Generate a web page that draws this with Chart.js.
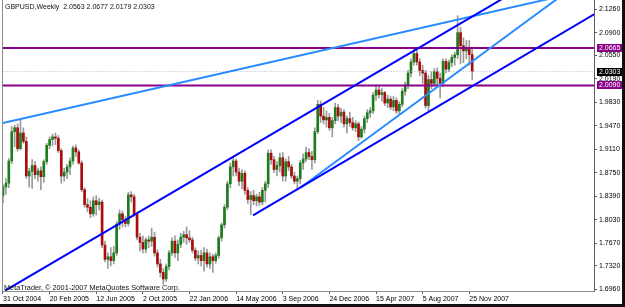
<!DOCTYPE html>
<html>
<head>
<meta charset="utf-8">
<title>GBPUSD Weekly</title>
<script src="https://cdn.jsdelivr.net/npm/chart.js@4.4.1/dist/chart.umd.min.js"></script>
<style>
  html, body { margin: 0; padding: 0; background: #fff; }
  #wrap { width: 625px; height: 307px; }
</style>
</head>
<body>
<div id="wrap"><canvas id="chart" width="625" height="307"></canvas></div>
<script>
// GBPUSD weekly bars, bar 0 = week of 31 Oct 2004, bar 161 = week of 2 Dec 2007
var opens = [
  1.840, 1.853, 1.859, 1.893, 1.938, 1.944, 1.912, 1.936, 1.923, 1.870,
  1.877, 1.886, 1.872, 1.878, 1.869, 1.892, 1.917, 1.926, 1.930, 1.928,
  1.909, 1.870, 1.876, 1.884, 1.893, 1.913, 1.907, 1.890, 1.849, 1.826,
  1.822, 1.812, 1.832, 1.826, 1.830, 1.764, 1.742, 1.746, 1.740, 1.752,
  1.796, 1.812, 1.803, 1.797, 1.841, 1.838, 1.811, 1.776, 1.768, 1.758,
  1.772, 1.770, 1.776, 1.752, 1.735, 1.722, 1.712, 1.731, 1.752, 1.770,
  1.752, 1.765, 1.776, 1.780, 1.775, 1.772, 1.756, 1.744, 1.748, 1.740,
  1.752, 1.735, 1.746, 1.740, 1.748, 1.775, 1.795, 1.822, 1.858, 1.884,
  1.893, 1.876, 1.862, 1.874, 1.848, 1.834, 1.840, 1.832, 1.838, 1.830,
  1.848, 1.858, 1.905, 1.895, 1.880, 1.886, 1.898, 1.870, 1.892, 1.884,
  1.870, 1.862, 1.866, 1.890, 1.896, 1.906, 1.900, 1.895, 1.938, 1.980,
  1.962, 1.956, 1.960, 1.944, 1.955, 1.975, 1.962, 1.968, 1.950, 1.958,
  1.952, 1.944, 1.950, 1.930, 1.942, 1.958, 1.967, 1.970, 1.994, 2.002,
  1.995, 1.998, 1.982, 1.988, 1.976, 1.986, 1.970, 1.980, 2.000, 2.010,
  2.028, 2.045, 2.058, 2.045, 2.032, 2.028, 1.978, 2.018, 2.012, 2.030,
  2.020, 2.012, 2.046, 2.034, 2.044, 2.052, 2.056, 2.090, 2.070, 2.062,
  2.066, 2.0563
];
var highs = [
  1.857, 1.866, 1.897, 1.946, 1.948, 1.950, 1.956, 1.944, 1.930, 1.882,
  1.895, 1.892, 1.882, 1.884, 1.895, 1.920, 1.930, 1.934, 1.936, 1.932,
  1.912, 1.882, 1.888, 1.898, 1.916, 1.918, 1.910, 1.893, 1.852, 1.835,
  1.832, 1.838, 1.840, 1.836, 1.833, 1.770, 1.752, 1.760, 1.762, 1.800,
  1.818, 1.816, 1.808, 1.845, 1.846, 1.842, 1.814, 1.782, 1.778, 1.775,
  1.778, 1.790, 1.784, 1.757, 1.742, 1.728, 1.735, 1.756, 1.775, 1.778,
  1.772, 1.782, 1.785, 1.792, 1.786, 1.776, 1.760, 1.755, 1.756, 1.760,
  1.758, 1.752, 1.750, 1.752, 1.778, 1.798, 1.826, 1.862, 1.890, 1.899,
  1.896, 1.882, 1.880, 1.878, 1.852, 1.846, 1.848, 1.842, 1.845, 1.852,
  1.862, 1.910, 1.910, 1.900, 1.892, 1.905, 1.906, 1.896, 1.900, 1.888,
  1.876, 1.870, 1.894, 1.904, 1.914, 1.912, 1.908, 1.944, 1.986, 1.985,
  1.975, 1.970, 1.966, 1.960, 1.982, 1.980, 1.974, 1.972, 1.962, 1.968,
  1.960, 1.955, 1.953, 1.946, 1.962, 1.972, 1.975, 1.998, 2.010, 2.008,
  2.004, 2.000, 1.994, 1.992, 1.992, 1.990, 1.984, 2.004, 2.014, 2.032,
  2.050, 2.066, 2.064, 2.050, 2.040, 2.032, 2.024, 2.030, 2.035, 2.036,
  2.028, 2.050, 2.050, 2.048, 2.056, 2.060, 2.1161, 2.098, 2.082, 2.078,
  2.078, 2.0677
];
var lows = [
  1.829, 1.842, 1.852, 1.889, 1.915, 1.908, 1.910, 1.920, 1.866, 1.853,
  1.851, 1.866, 1.862, 1.849, 1.860, 1.888, 1.912, 1.916, 1.918, 1.906,
  1.859, 1.862, 1.866, 1.872, 1.888, 1.900, 1.888, 1.846, 1.822, 1.815,
  1.806, 1.808, 1.810, 1.818, 1.760, 1.738, 1.728, 1.732, 1.735, 1.748,
  1.788, 1.792, 1.792, 1.793, 1.830, 1.808, 1.772, 1.755, 1.752, 1.752,
  1.760, 1.762, 1.747, 1.730, 1.715, 1.704, 1.708, 1.726, 1.748, 1.745,
  1.740, 1.760, 1.768, 1.765, 1.768, 1.752, 1.740, 1.735, 1.732, 1.724,
  1.730, 1.728, 1.722, 1.736, 1.744, 1.770, 1.790, 1.818, 1.852, 1.870,
  1.870, 1.855, 1.850, 1.842, 1.828, 1.811, 1.826, 1.824, 1.825, 1.826,
  1.830, 1.852, 1.888, 1.875, 1.870, 1.876, 1.862, 1.862, 1.878, 1.866,
  1.858, 1.851, 1.858, 1.880, 1.892, 1.895, 1.880, 1.890, 1.935, 1.952,
  1.950, 1.945, 1.940, 1.930, 1.950, 1.955, 1.952, 1.945, 1.936, 1.946,
  1.940, 1.938, 1.924, 1.928, 1.936, 1.952, 1.960, 1.966, 1.986, 1.990,
  1.985, 1.978, 1.975, 1.972, 1.970, 1.966, 1.965, 1.976, 1.994, 2.004,
  2.022, 2.040, 2.040, 2.024, 2.012, 1.974, 1.970, 2.004, 2.008, 2.010,
  1.990, 2.008, 2.028, 2.030, 2.038, 2.040, 2.050, 2.042, 2.044, 2.050,
  2.040, 2.0179
];
var closes = [
  1.853, 1.859, 1.893, 1.938, 1.944, 1.912, 1.936, 1.923, 1.870, 1.877,
  1.886, 1.872, 1.878, 1.869, 1.892, 1.917, 1.926, 1.930, 1.928, 1.909,
  1.870, 1.876, 1.884, 1.893, 1.913, 1.907, 1.890, 1.849, 1.826, 1.822,
  1.812, 1.832, 1.826, 1.830, 1.764, 1.742, 1.746, 1.740, 1.752, 1.796,
  1.812, 1.803, 1.797, 1.841, 1.838, 1.811, 1.776, 1.768, 1.758, 1.772,
  1.770, 1.776, 1.752, 1.735, 1.722, 1.712, 1.731, 1.752, 1.770, 1.752,
  1.765, 1.776, 1.780, 1.775, 1.772, 1.756, 1.744, 1.748, 1.740, 1.752,
  1.735, 1.746, 1.740, 1.748, 1.775, 1.795, 1.822, 1.858, 1.884, 1.893,
  1.876, 1.862, 1.874, 1.848, 1.834, 1.840, 1.832, 1.838, 1.830, 1.848,
  1.858, 1.905, 1.895, 1.880, 1.886, 1.898, 1.870, 1.892, 1.884, 1.870,
  1.862, 1.866, 1.890, 1.896, 1.906, 1.900, 1.895, 1.938, 1.980, 1.962,
  1.956, 1.960, 1.944, 1.955, 1.975, 1.962, 1.968, 1.950, 1.958, 1.952,
  1.944, 1.950, 1.930, 1.942, 1.958, 1.967, 1.970, 1.994, 2.002, 1.995,
  1.998, 1.982, 1.988, 1.976, 1.986, 1.970, 1.980, 2.000, 2.010, 2.028,
  2.045, 2.058, 2.045, 2.032, 2.028, 1.978, 2.018, 2.012, 2.030, 2.020,
  2.012, 2.046, 2.034, 2.044, 2.052, 2.056, 2.090, 2.070, 2.062, 2.066,
  2.0563, 2.0303
];

// time axis labels (one every 16 weeks)
var dateTicks = [0, 16, 32, 48, 64, 80, 96, 112, 128, 144, 160];
var dateLabels = ['31 Oct 2004', '20 Feb 2005', '12 Jun 2005', '2 Oct 2005', '22 Jan 2006',
  '14 May 2006', '3 Sep 2006', '24 Dec 2006', '15 Apr 2007', '5 Aug 2007', '25 Nov 2007'];

// price axis labels
var priceTicks = [2.1260, 2.0900, 2.0550, 2.0190, 1.9830, 1.9470, 1.9110,
  1.8750, 1.8390, 1.8030, 1.7670, 1.7320, 1.6960];

// horizontal levels and the current price
var levels = [2.0665, 2.0090];
var lastPrice = 2.0303;

// trend lines: [bar1, price1, bar2, price2]
var lightLines = [[0, 1.9512, 200, 2.1547], [101.9, 1.8516, 200, 2.1742]];
var darkLines = [[0.7, 1.6940, 200, 2.2170], [85.8, 1.8094, 210, 2.1369]];

var FONT = '"Liberation Sans", Arial, sans-serif';
var BULL = '#1b7d1b';
var BEAR = '#a80c0c';

var bodies = [], wicks = [], bodyColors = [];
for (var i = 0; i < closes.length; i++) {
    wicks.push({ x: i, y: [lows[i], highs[i]] });
    bodies.push({ x: i, y: [opens[i], closes[i]] });
    bodyColors.push(closes[i] >= opens[i] ? BULL : BEAR);
}

function lineSet(pts, color, extra) {
    var ds = {
        type: 'line',
        data: [{ x: pts[0], y: pts[1] }, { x: pts[2], y: pts[3] }],
        borderColor: color,
        borderWidth: 2,
        pointRadius: 0,
        fill: false,
        tension: 0,
        clip: 0,
        order: 0
    };
    return Object.assign(ds, extra || {});
}

var datasets = [];
darkLines.forEach(function(l) { datasets.push(lineSet(l, '#0000ff')); });
lightLines.forEach(function(l) { datasets.push(lineSet(l, '#2a8cff')); });
levels.forEach(function(v) { datasets.push(lineSet([-5, v, 250, v], '#8b008b')); });
datasets.push(lineSet([-5, lastPrice, 250, lastPrice], '#b4b4d4', { borderWidth: 1, borderDash: [1, 2], order: 1 }));
datasets.push({
    type: 'bar', data: bodies, backgroundColor: bodyColors,
    barThickness: 2, grouped: false, order: 2
});
datasets.push({
    type: 'bar', data: wicks, backgroundColor: '#9a9a9a',
    barThickness: 1, grouped: false, order: 3
});

// price tags, title, watermark and window frame
var mt4Extras = {
    id: 'mt4Extras',
    afterDraw: function(chart) {
        var ctx = chart.ctx, area = chart.chartArea, ys = chart.scales.y;
        var n = closes.length - 1;
        ctx.save();
        ctx.strokeStyle = '#8c8c8c';
        ctx.lineWidth = 1;
        ctx.beginPath();
        ctx.moveTo(area.left + 0.5, area.top);
        ctx.lineTo(area.left + 0.5, area.bottom);
        ctx.stroke();

        ctx.font = '7px ' + FONT;
        ctx.textAlign = 'left';
        ctx.textBaseline = 'middle';
        ctx.fillStyle = '#111';
        ctx.fillText('GBPUSD,Weekly  ' + opens[n].toFixed(4) + ' ' + highs[n].toFixed(4) + ' ' +
            lows[n].toFixed(4) + ' ' + closes[n].toFixed(4), 5, 7);
        ctx.font = '7.3px ' + FONT;
        ctx.fillText('MetaTrader, \u00a9 2001-2007 MetaQuotes Software Corp.', 4, 288);

        ctx.font = '7px ' + FONT;
        var tags = [[levels[0], '#8b008b'], [levels[1], '#8b008b'], [lastPrice, '#000']];
        tags.forEach(function(t) {
            var y = Math.round(ys.getPixelForValue(t[0]));
            ctx.fillStyle = t[1];
            ctx.fillRect(area.right + 3, y - 4, 27, 8);
            ctx.fillStyle = '#fff';
            ctx.fillText(t[0].toFixed(4), area.right + 5, y + 0.5);
        });

        ctx.fillStyle = '#101010';
        ctx.fillRect(622, 0, 3, 307);
        ctx.fillRect(0, 304, 625, 3);
        ctx.restore();
    }
};

new Chart(document.getElementById('chart').getContext('2d'), {
    type: 'bar',
    data: { datasets: datasets },
    options: {
        responsive: false,
        animation: false,
        devicePixelRatio: 1,
        layout: { padding: { left: 2, top: 0, right: 0, bottom: 0 } },
        plugins: { legend: { display: false }, tooltip: { enabled: false } },
        scales: {
            x: {
                type: 'linear',
                min: -0.343,
                max: 202.8,
                offset: false,
                grid: { offset: false, drawOnChartArea: false, drawTicks: true, tickLength: 3, color: '#606060' },
                border: { color: '#8c8c8c' },
                afterBuildTicks: function(s) { s.ticks = dateTicks.map(function(v) { return { value: v }; }); },
                ticks: {
                    autoSkip: false, maxRotation: 0, align: 'start', padding: 1,
                    color: '#000', font: { family: FONT, size: 7 },
                    callback: function(v, idx) { return dateLabels[idx]; }
                },
                afterFit: function(s) { s.height = 16; s.paddingLeft = 0; s.paddingRight = 0; }
            },
            y: {
                position: 'right',
                min: 1.6935,
                max: 2.1401,
                grid: { drawOnChartArea: false, drawTicks: true, tickLength: 3, color: '#606060' },
                border: { color: '#606060' },
                afterBuildTicks: function(s) { s.ticks = priceTicks.map(function(v) { return { value: v }; }); },
                ticks: {
                    autoSkip: false, padding: 2, color: '#000', font: { family: FONT, size: 7 },
                    callback: function(v) { return v.toFixed(4); }
                },
                afterFit: function(s) { s.width = 31; s.paddingTop = 0; s.paddingBottom = 0; }
            }
        }
    },
    plugins: [mt4Extras]
});
</script>
</body>
</html>
